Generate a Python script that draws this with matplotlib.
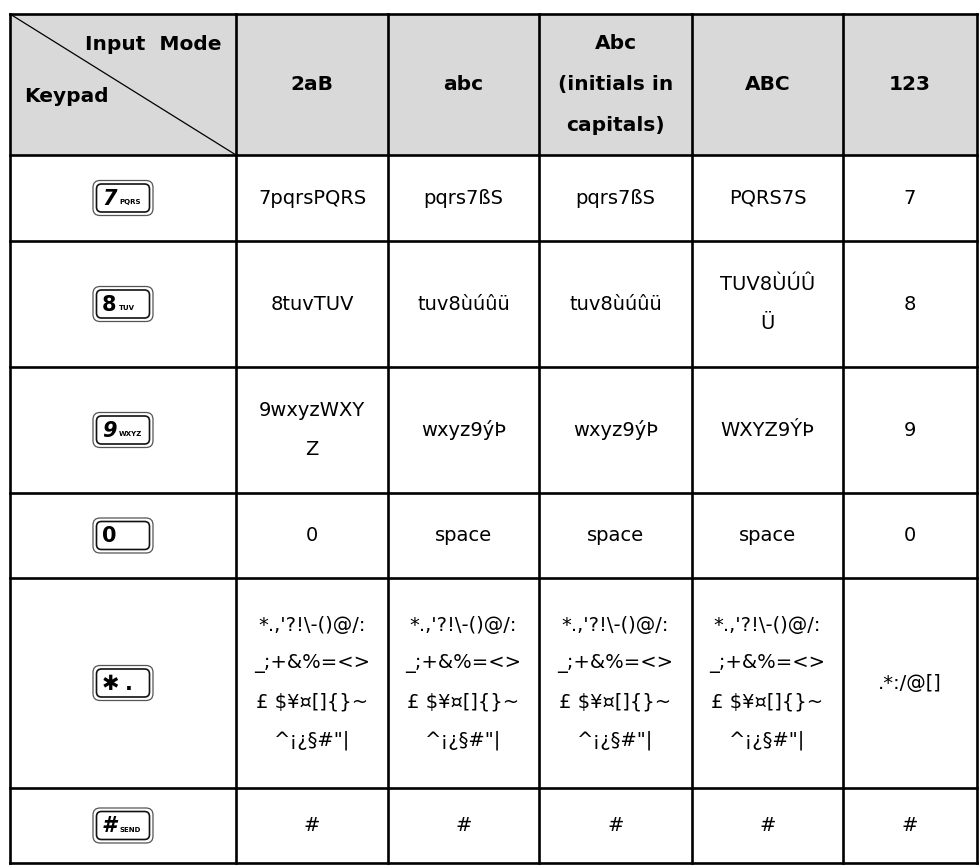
import matplotlib.pyplot as plt
from matplotlib.patches import FancyBboxPatch, Rectangle

# table content
modes = ['2aB', 'abc', 'Abc\n(initials in\ncapitals)', 'ABC', '123']
key_digits = ['7', '8', '9', '0', '\u2731.', '#']
key_letters = ['PQRS', 'TUV', 'WXYZ', '', '', 'SEND']
symbols = '*.,\'?!\\-()@/:\n_;+&%=<>\n£ $¥¤[]{}~\n^¡¿§#"|'
cells = [
    ['7pqrsPQRS', 'pqrs7ßS', 'pqrs7ßS', 'PQRS7S', '7'],
    ['8tuvTUV', 'tuv8ùúûü', 'tuv8ùúûü', 'TUV8ÙÚÛ\nÜ', '8'],
    ['9wxyzWXY\nZ', 'wxyz9ýÞ', 'wxyz9ýÞ', 'WXYZ9ÝÞ', '9'],
    ['0', 'space', 'space', 'space', '0'],
    [symbols, symbols, symbols, symbols, '.*:/@[]'],
    ['#', '#', '#', '#', '#'],
]

# layout in pixels
xs = [10, 236, 388, 539, 692, 843, 977]
ys = [14, 155, 241, 367, 493, 578, 788, 863]

plt.rcParams['font.family'] = ['DejaVu Sans']

fig = plt.figure(figsize=(9.8, 8.65), dpi=100)
ax = fig.add_axes([0, 0, 1, 1])
ax.set_xlim(0, 980)
ax.set_ylim(865, 0)
ax.axis('off')

# header background
ax.add_patch(Rectangle((xs[0], ys[0]), xs[-1] - xs[0], ys[1] - ys[0],
                       facecolor='#d9d9d9', edgecolor='none', zorder=0))

# grid
lw = 1.9
for x in xs:
    ax.plot([x, x], [ys[0], ys[-1]], color='black', lw=lw, solid_capstyle='projecting')
for y in ys:
    ax.plot([xs[0], xs[-1]], [y, y], color='black', lw=lw, solid_capstyle='projecting')
ax.plot([xs[0], xs[1]], [ys[0], ys[1]], color='black', lw=0.9)


def put_lines(text, cx, cy, spacing, **kw):
    parts = text.split('\n')
    n = len(parts)
    for i, p in enumerate(parts):
        ax.text(cx, cy + (i - (n - 1) / 2) * spacing, p, ha='center', va='center', **kw)


# header texts
hfs = 14.5
ax.text(221, 45, 'Input  Mode', ha='right', va='center', fontsize=hfs, fontweight='bold')
ax.text(24, 96, 'Keypad', ha='left', va='center', fontsize=hfs, fontweight='bold')
for j, m in enumerate(modes):
    cx = (xs[j + 1] + xs[j + 2]) / 2
    put_lines(m, cx, (ys[0] + ys[1]) / 2, 41, fontsize=hfs, fontweight='bold')

# body cells
for i, row in enumerate(cells):
    cy = (ys[i + 1] + ys[i + 2]) / 2
    for j, val in enumerate(row):
        cx = (xs[j + 1] + xs[j + 2]) / 2
        put_lines(val, cx, cy, 38.5, fontsize=14)

# keypad buttons
for i, (d, letters) in enumerate(zip(key_digits, key_letters)):
    cy = (ys[i + 1] + ys[i + 2]) / 2
    x0, w, h = 93, 60, 35
    ax.add_patch(FancyBboxPatch((x0, cy - h / 2), w, h, boxstyle='round,pad=0,rounding_size=7',
                                facecolor='white', edgecolor='#555555', lw=0.9))
    ax.add_patch(FancyBboxPatch((x0 + 3.5, cy - h / 2 + 3.5), w - 7, h - 7,
                                boxstyle='round,pad=0,rounding_size=5',
                                facecolor='white', edgecolor='#111111', lw=1.2))
    if d.startswith('\u2731'):
        ax.text(x0 + 9, cy + 1, '\u2731', ha='left', va='center', fontsize=15, fontweight='bold')
        ax.text(x0 + 32, cy + 1, '.', ha='left', va='center', fontsize=15, fontweight='bold')
    else:
        style = 'italic' if d in '79#' else 'normal'
        ax.text(x0 + 9, cy + 1, d, ha='left', va='center', fontsize=15,
                fontweight='bold', fontstyle=style)
        if letters:
            ax.text(x0 + 26, cy + 4, letters, ha='left', va='center', fontsize=5,
                    fontweight='bold')

fig.savefig('out.png', dpi=100)
